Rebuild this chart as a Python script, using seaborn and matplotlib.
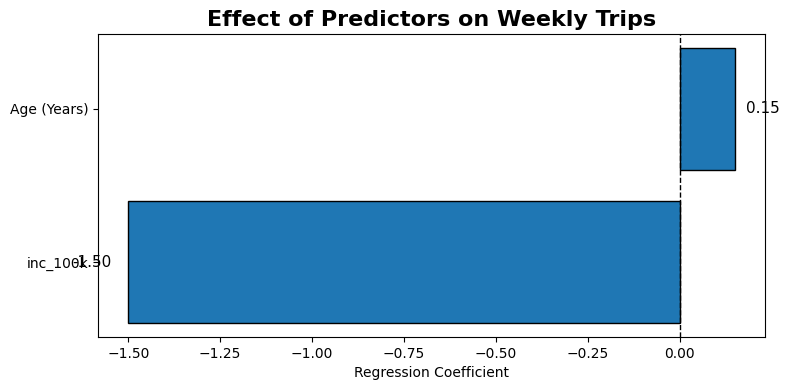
import matplotlib
matplotlib.use("Agg")
import matplotlib.pyplot as plt
import seaborn as sns
import pandas as pd

predictors = ["Age (Years)", "inc_100k"]
coefficients = [0.15, -1.50]

df = pd.DataFrame({"Predictor": predictors, "Coefficient": coefficients})

fig, ax = plt.subplots(figsize=(7.88, 3.9), dpi=100)
sns.barplot(data=df, x="Coefficient", y="Predictor", orient="h",
            color="#1f77b4", saturation=1, edgecolor="black", linewidth=1,
            width=0.8, ax=ax)
ax.axvline(0, color="black", linestyle="--", linewidth=1)

for i, v in enumerate(coefficients):
    if v >= 0:
        ax.text(v + 0.03, i, f"{v:.2f}", va="center", ha="left", fontsize=11)
    else:
        ax.text(v - 0.045, i, f"{v:.2f}", va="center", ha="right", fontsize=11)

ax.set_ylim(1.49, -0.49)
ax.set_xlim(-1.5825, 0.2325)
ax.set_title("Effect of Predictors on Weekly Trips", fontsize=16, fontweight="bold")
ax.set_xlabel("Regression Coefficient")
ax.set_ylabel("")
fig.subplots_adjust(left=98/788, right=765/788, top=1-34/390, bottom=1-337/390)
fig.savefig("out.png", dpi=100)
